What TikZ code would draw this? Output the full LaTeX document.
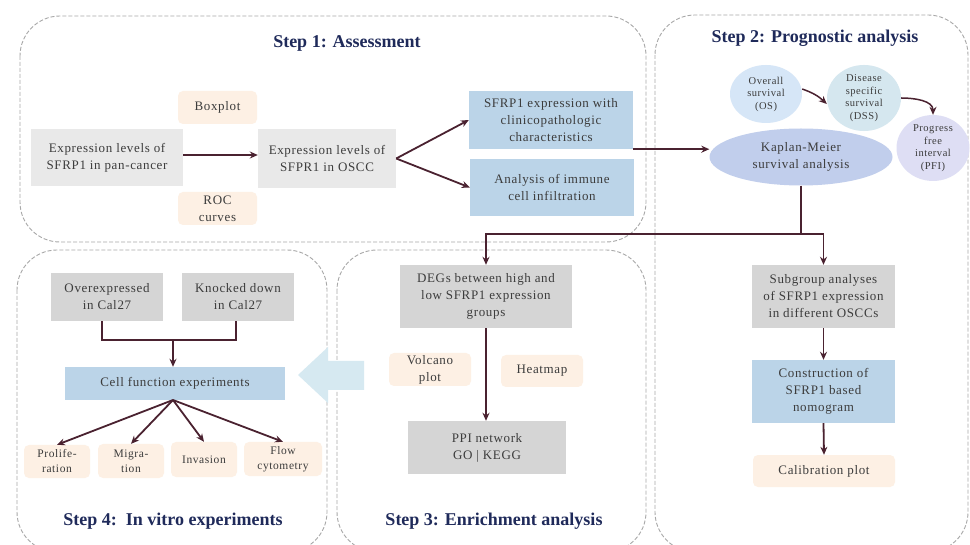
\documentclass[tikz,border=0pt]{standalone}
\usepackage{fontspec}
\setmainfont{Liberation Serif}
\newfontfamily\spacedfont[LetterSpace=5]{Liberation Serif}
\usetikzlibrary{arrows.meta,shapes.geometric}
\definecolor{panelc}{HTML}{A8A8A8}
\definecolor{titlec}{HTML}{1F2A5A}
\definecolor{txt}{HTML}{3C3C3C}
\definecolor{grayA}{HTML}{E9E9E9}
\definecolor{grayB}{HTML}{D5D5D5}
\definecolor{blueB}{HTML}{BBD4E8}
\definecolor{peach}{HTML}{FDF0E4}
\definecolor{arrc}{HTML}{4A2230}
\definecolor{osc}{HTML}{D6E6F7}
\definecolor{dssc}{HTML}{D5E7EF}
\definecolor{pfic}{HTML}{DEDEF4}
\definecolor{kmc}{HTML}{C1CEEC}
\definecolor{bigarr}{HTML}{D6E9F1}
\begin{document}
\begin{tikzpicture}[x=1pt,y=-1pt,
  panel/.style={draw=panelc, dashed, dash pattern=on 4pt off 2pt, line width=0.9pt, rounded corners=40pt},
  title/.style={font=\fontsize{18}{21}\selectfont\bfseries, text=titlec},
  box/.style={draw=none, inner sep=0pt, align=center, text=txt, font=\spacedfont\fontsize{13}{17}\selectfont},
  lgray/.style={box, fill=grayA},
  dgray/.style={box, fill=grayB},
  bluebox/.style={box, fill=blueB},
  peachbox/.style={box, fill=peach, rounded corners=5pt},
  ell/.style={ellipse, inner sep=0pt, align=center, text=txt, font=\spacedfont\fontsize{10.5}{12.5}\selectfont},
  arr/.style={draw=arrc, line width=1.8pt, -{Stealth[length=8pt,width=7pt]}},
  ln/.style={draw=arrc, line width=1.8pt}
]
\useasboundingbox (0,0) rectangle (970,545);
\clip (0,0) rectangle (970,545);
\fill[white] (0,0) rectangle (970,545);

% panels
\draw[panel] (20,16) rectangle (646,242);
\draw[panel] (655,15) rectangle (968,552);
\draw[panel] (17,250) rectangle (327,552);
\draw[panel] (337,250) rectangle (646,552);

% big light-blue arrow
\fill[bigarr] (364,361) -- (328,361) -- (328,347) -- (298,375) -- (328,403) -- (328,390) -- (364,390) -- cycle;

% titles
\node[title] (t1) at (347,43) {Step 1: Assessment};
\node[title] (t2) at (815,38) {Step 2: Prognostic analysis};
\node[title] (t3) at (494,521) {Step 3: Enrichment analysis};
\node[title] (t4) at (173,521) {Step 4:\ \ In vitro experiments};

% Step 1
\node[lgray, minimum width=152pt, minimum height=57pt] (pan) at (107,157.5) {Expression levels of\\SFRP1 in pan-cancer};
\node[lgray, minimum width=138pt, minimum height=59pt] (oscc) at (327,158.5) {Expression levels of\\SFPR1 in OSCC};
\node[peachbox, minimum width=79pt, minimum height=33pt] (boxplot) at (217.5,107.5) {Boxplot};
\node[peachbox, minimum width=79pt, minimum height=33pt] (roc) at (217.5,208.5) {ROC\\curves};
\node[bluebox, minimum width=164pt, minimum height=58pt] (clin) at (551,120) {SFRP1 expression with\\clinicopathologic\\characteristics};
\node[bluebox, minimum width=164pt, minimum height=57pt] (immune) at (552,187.5) {Analysis of immune\\cell infiltration};

\draw[arr] (pan.east |- 0,155) -- (oscc.west |- 0,155);
\draw[arr] (oscc.east) -- (clin.west);
\draw[arr] (oscc.east) -- (immune.west);

% Step 2
\node[ell, fill=osc, minimum width=72pt, minimum height=58pt] (os) at (766,94) {Overall\\survival\\(OS)};
\node[ell, fill=dssc, minimum width=74pt, minimum height=57pt] (dss) at (864,98) {Disease\\specific\\survival\\(DSS)};
\node[ell, fill=pfic, minimum width=73pt, minimum height=57pt] (pfi) at (933,148) {Progress\\free\\interval\\(PFI)};
\node[ell, fill=kmc, minimum width=183pt, minimum height=57pt, font=\spacedfont\fontsize{13}{17}\selectfont] (km) at (801,157) {Kaplan-Meier\\survival analysis};

\draw[arr, line width=1.5pt] (os.east) ++(0,-5) to[bend left=12] ([yshift=-6pt]dss.west);
\draw[arr, line width=1.5pt] (dss.east) to[out=0,in=90] (pfi.north);
\draw[arr] (clin.south east) -- (km.west |- clin.south east);

\node[dgray, minimum width=143pt, minimum height=63pt] (sub) at (823.5,296.5) {Subgroup analyses\\of SFRP1 expression\\in different OSCCs};
\node[bluebox, minimum width=143pt, minimum height=63pt] (nomo) at (823.5,391.5) {Construction of\\SFRP1 based\\nomogram};
\node[peachbox, minimum width=142pt, minimum height=32pt] (calib) at (824,471) {Calibration plot};

\coordinate (split) at (801,234);
\draw[ln] (km.south) -- (split);
\draw[arr] (split) -| (sub.north);
\draw[arr] (sub.south) -- (nomo.north);
\draw[arr] (nomo.south) -- (calib.north);

% Step 3
\node[dgray, minimum width=172pt, minimum height=63pt] (deg) at (486,296.5) {DEGs between high and\\low SFRP1 expression\\groups};
\node[peachbox, minimum width=82pt, minimum height=33pt] (volcano) at (430,369.5) {Volcano\\plot};
\node[peachbox, minimum width=82pt, minimum height=32pt] (heat) at (542,371) {Heatmap};
\node[dgray, minimum width=158pt, minimum height=53pt] (ppi) at (487,447.5) {PPI network\\GO | KEGG};

\draw[arr] (split) -| (deg.north);
\draw[arr] (deg.south) -- (deg.south |- ppi.north);

% Step 4
\node[dgray, minimum width=112pt, minimum height=48pt] (over) at (107,297) {Overexpressed\\in Cal27};
\node[dgray, minimum width=112pt, minimum height=48pt] (knock) at (238,297) {Knocked down\\in Cal27};
\node[bluebox, minimum width=220pt, minimum height=33pt] (cellf) at (175,383.5) {Cell function experiments};
\node[peachbox, minimum width=66pt, minimum height=33pt, font=\spacedfont\fontsize{11.5}{15}\selectfont] (prolif) at (57,461.5) {Prolife-\\ration};
\node[peachbox, minimum width=66pt, minimum height=34pt, font=\spacedfont\fontsize{11.5}{15}\selectfont] (migr) at (131,461) {Migra-\\tion};
\node[peachbox, minimum width=66pt, minimum height=35pt, font=\spacedfont\fontsize{11.5}{15}\selectfont] (inva) at (204,459.5) {Invasion};
\node[peachbox, minimum width=78pt, minimum height=34pt, font=\spacedfont\fontsize{11.5}{15}\selectfont] (flow) at (283,459) {Flow\\cytometry};

\coordinate (jn) at (173,340);
\draw[ln] ([xshift=-5pt]over.south) |- (jn) -| ([xshift=-2pt]knock.south);
\draw[arr] (jn) -- (jn |- cellf.north);
\coordinate (fan) at (173,400);
\draw[arr] (fan) -- (prolif.north);
\draw[arr] (fan) -- (migr.north);
\draw[arr] (fan) -- (inva.north);
\draw[arr] (fan) -- (flow.north);
\end{tikzpicture}
\end{document}
